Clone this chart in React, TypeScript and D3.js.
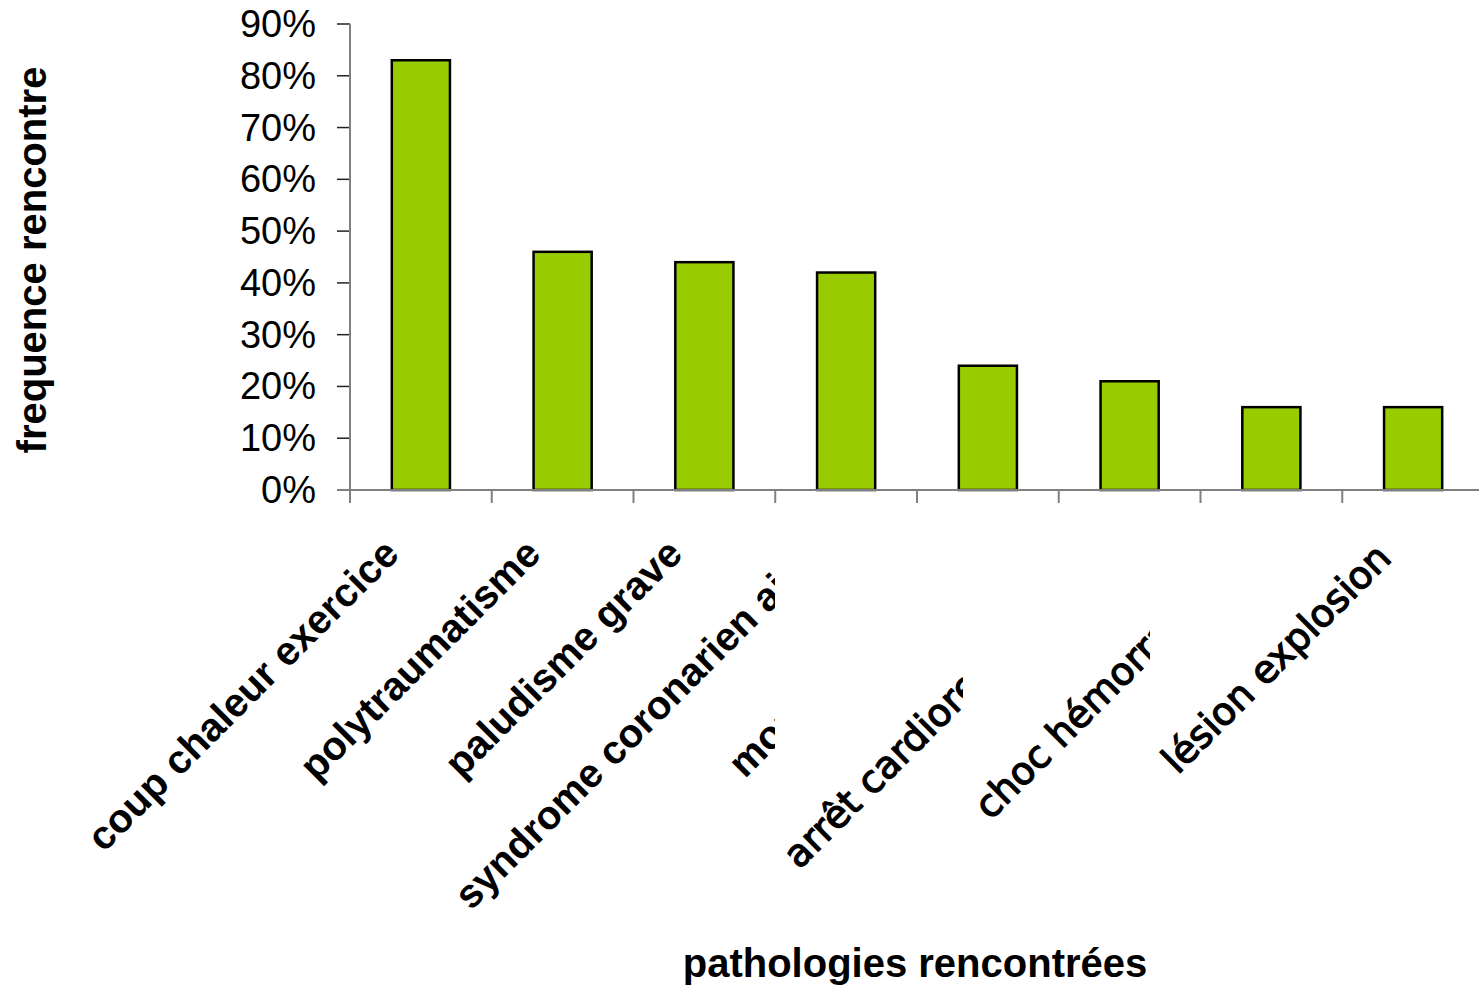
import React from "react";
import * as d3 from "d3";

// Pathologies and their observed frequency (%)
const categories = [
  "coup chaleur exercice",
  "polytraumatisme",
  "paludisme grave",
  "syndrome coronarien aigu",
  "morsure serpent",
  "arrêt cardiorespiratoire",
  "choc hémorragique",
  "lésion explosion",
];
const frequencies = [83, 46, 44, 42, 24, 21, 16, 16];
const yTicks = [0, 10, 20, 30, 40, 50, 60, 70, 80, 90];

// Labels rendered with a different face, and labels cut off on the right
const altFaceLabels = ["arrêt cardiorespiratoire", "choc hémorragique", "lésion explosion"];
const labelClipRight: Record<string, number> = {
  "syndrome coronarien aigu": 775,
  "morsure serpent": 775,
  "arrêt cardiorespiratoire": 963,
  "choc hémorragique": 1150,
};

const W = 1479;
const H = 988;
const plotLeft = 350;
const plotRight = 1484;

export default function App() {
  const band = d3.scaleBand<string>().domain(categories).range([plotLeft, plotRight]);
  const x = d3
    .scaleBand<string>()
    .domain(categories)
    .range([plotLeft, plotRight])
    .paddingInner(0.59)
    .paddingOuter(0.295);
  const y = d3.scaleLinear().domain([0, 90]).range([490, 24]);

  const sans = "'Liberation Sans', Arial, sans-serif";
  const boundaries = d3.range(categories.length + 1).map((i) => plotLeft + i * band.step());

  return (
    <div style={{ position: "fixed", left: 0, top: 0 }}>
      <svg width={W} height={H} style={{ display: "block", background: "#fff" }}>
        <defs>
          {categories.map((c, i) =>
            labelClipRight[c] !== undefined ? (
              <clipPath id={`clip-${i}`} key={c}>
                <rect x={0} y={0} width={labelClipRight[c]} height={H} />
              </clipPath>
            ) : null
          )}
        </defs>

        {/* y axis ticks and labels */}
        {yTicks.map((t) => (
          <g key={t}>
            <line x1={337} x2={350} y1={y(t)} y2={y(t)} stroke="#222" strokeWidth={1.5} />
            <text x={316} y={y(t) + 13} textAnchor="end" fontFamily={sans} fontSize={38} fill="#000">
              {t}%
            </text>
          </g>
        ))}

        {/* bars */}
        {categories.map((c, i) => (
          <rect
            key={c}
            x={x(c)!}
            y={y(frequencies[i])}
            width={x.bandwidth()}
            height={y(0) - y(frequencies[i])}
            fill="#99CC00"
            stroke="#000"
            strokeWidth={2.5}
          />
        ))}

        {/* axes */}
        <line x1={350} x2={350} y1={y(90)} y2={503} stroke="#808080" strokeWidth={2} />
        <line x1={337} x2={W} y1={y(0)} y2={y(0)} stroke="#808080" strokeWidth={2} />
        {boundaries.slice(1).map((b, i) => (
          <line key={i} x1={b} x2={b} y1={y(0)} y2={503} stroke="#808080" strokeWidth={2} />
        ))}

        {/* category labels */}
        {categories.map((c, i) => {
          const cx = band(c)! + band.bandwidth() / 2 - 20;
          const alt = altFaceLabels.includes(c);
          return (
            <g key={c} clipPath={labelClipRight[c] !== undefined ? `url(#clip-${i})` : undefined}>
              <text
                transform={`translate(${cx},${alt ? 560 : 556}) rotate(-45)`}
                textAnchor="end"
                fontFamily={alt ? "'DejaVu Sans', Verdana, sans-serif" : sans}
                fontWeight={alt ? "normal" : "bold"}
                fontSize={alt ? 38 : 40}
                fill="#000"
                stroke={alt ? "#000" : "none"}
                strokeWidth={alt ? 1.3 : 0}
              >
                {c}
              </text>
            </g>
          );
        })}

        {/* axis titles */}
        <text
          transform={`translate(46,260) rotate(-90)`}
          textAnchor="middle"
          fontFamily={sans}
          fontWeight="bold"
          fontSize={40}
        >
          frequence rencontre
        </text>
        <text x={915} y={977} textAnchor="middle" fontFamily={sans} fontWeight="bold" fontSize={40}>
          pathologies rencontrées
        </text>
      </svg>
    </div>
  );
}
